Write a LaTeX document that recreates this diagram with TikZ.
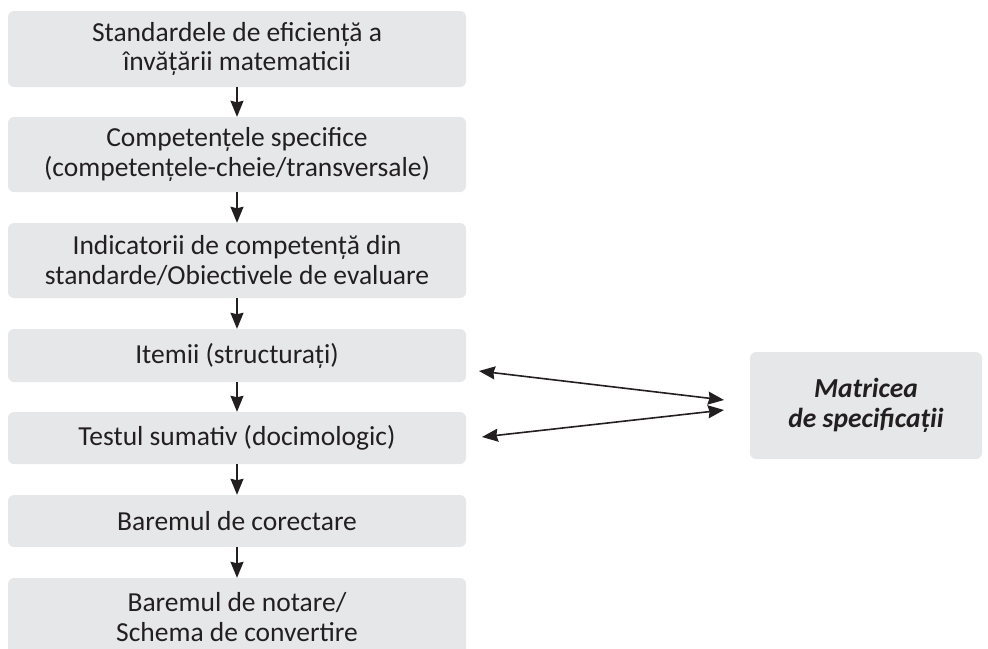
\documentclass[tikz,border=0pt]{standalone}
\usepackage{fontspec}
\setmainfont{Carlito}
\usetikzlibrary{arrows.meta}
\definecolor{boxfill}{HTML}{E6E7E8}
\definecolor{ink}{HTML}{231F20}
\begin{document}
\begin{tikzpicture}[x=1pt,y=-1pt,
  flowbox/.style={fill=boxfill,draw=none,rounded corners=6pt,minimum width=458pt,inner sep=0pt,align=center,text=ink,font=\fontsize{27.5}{29.7}\selectfont},
  sidebox/.style={fill=boxfill,draw=none,rounded corners=6pt,minimum width=232pt,minimum height=107pt,inner sep=0pt,align=center,text=ink,font=\fontsize{27.5}{29.7}\selectfont\bfseries\itshape},
  flowarrow/.style={draw=ink,line width=1.6pt,-{Stealth[length=16pt,width=13pt,inset=1.5pt]}},
  twoarrow/.style={draw=ink,line width=1.6pt,{Stealth[length=16pt,width=13pt,inset=1.5pt]}-{Stealth[length=16pt,width=13pt,inset=1.5pt]}}]
\useasboundingbox (0,0) rectangle (988,648);
\node[flowbox,minimum height=76pt] (b1) at (237,49) {Standardele de eficiență a\\învățării matematicii};
\node[flowbox,minimum height=75pt] (b2) at (237,154.5) {Competențele specifice\\(competențele-cheie/transversale)};
\node[flowbox,minimum height=75pt] (b3) at (237,260.5) {Indicatorii de competență din\\standarde/Obiectivele de evaluare};
\node[flowbox,minimum height=53pt] (b4) at (237,355.5) {Itemii (structurați)};
\node[flowbox,minimum height=52pt] (b5) at (237,438) {Testul sumativ (docimologic)};
\node[flowbox,minimum height=52pt] (b6) at (237,521) {Baremul de corectare};
\node[flowbox,minimum height=78pt] (b7) at (237,617) {Baremul de notare/\\Schema de convertire};
\node[sidebox] (m) at (866,405.5) {Matricea\\de specificații};
\draw[flowarrow] (b1) -- (b2);
\draw[flowarrow] (b2) -- (b3);
\draw[flowarrow] (b3) -- (b4);
\draw[flowarrow] (b4) -- (b5);
\draw[flowarrow] (b5) -- (b6);
\draw[flowarrow] (b6) -- (b7);
\coordinate (i4) at (479,371);
\coordinate (m4) at (724,400);
\coordinate (i5) at (482,437);
\coordinate (m5) at (724,410);
\draw[twoarrow] (i4) -- (m4);
\draw[twoarrow] (i5) -- (m5);
\end{tikzpicture}
\end{document}
